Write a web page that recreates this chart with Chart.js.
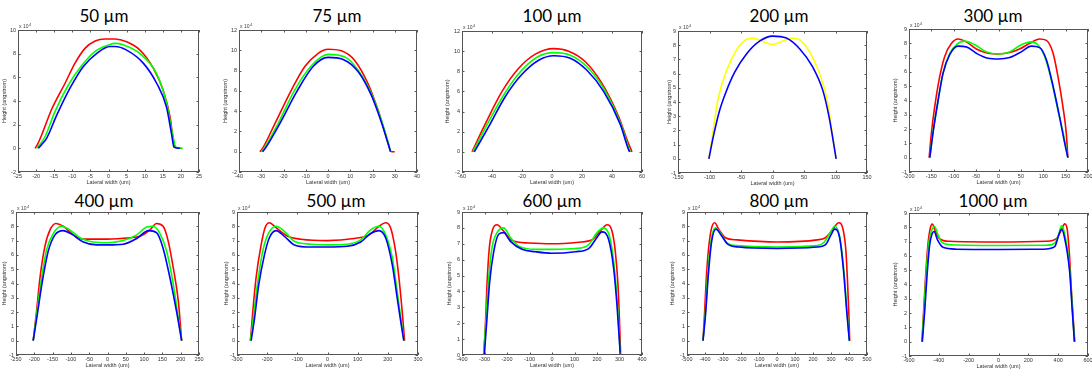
<!DOCTYPE html>
<html>
<head>
<meta charset="utf-8">
<script src="https://cdn.jsdelivr.net/npm/chart.js@4.4.1/dist/chart.umd.min.js"></script>
<style>
  body { margin: 0; background: #fff; width: 1092px; height: 371px; overflow: hidden; position: relative; }
  canvas { position: absolute; }
  .ttl { position: absolute; transform: translate(-50%, -50%); font: 17px Lato, sans-serif; color: #000; white-space: nowrap; }
</style>
</head>
<body>
<script>
// Heights in units of 10^4 angstrom, lateral width in um: [x, y]
const red50 = [[-20.3,0],[-19.5,0.4],[-18.5,1.1],[-15.7,3.3],[-12,5.5],[-9.25,7.2],[-6.5,8.45],[-3.7,9.07],[-1,9.24],[1.8,9.24],[5,9.0],[8.7,8.3],[12.4,6.75],[15.1,4.9],[17,2.65],[17.9,0.7],[18.4,0.1],[20.2,0]];
const green50 = [[-19.9,0],[-19,0.3],[-17.5,1.0],[-14.8,3.1],[-11.1,5.35],[-7.4,7.0],[-3.7,8.2],[0,8.73],[1.8,8.87],[4,8.75],[8.7,8.0],[13.3,6.3],[16,3.9],[17.7,1.2],[18.6,0.1],[20.5,0]];
const blue50 = [[-19.4,0],[-18.5,0.3],[-17.1,0.85],[-14.3,2.8],[-10.6,5.1],[-7,6.9],[-3.3,8.0],[0.4,8.6],[1.8,8.6],[5,8.3],[9.6,7.2],[13.3,5.5],[16,3.5],[17.4,1.25],[18.1,0.1],[19.7,0]];

const red75 = [[-30.6,0],[-29.5,0.3],[-23.8,2.8],[-16.4,6.1],[-10.4,8.4],[-4.4,9.7],[0,10.1],[6,9.95],[12,9.0],[18,6.7],[22.5,4.1],[26.2,1.45],[28.5,0],[30,0]];
const green75 = [[-29.9,0],[-28.8,0.3],[-22.4,2.8],[-14.9,6.1],[-7.4,8.5],[0,9.6],[7.5,9.35],[13.5,8.05],[19.5,5.7],[24,3.1],[27,0.95],[28.2,0]];
const blue75 = [[-29.4,0],[-28.3,0.3],[-21.6,2.8],[-14.1,5.9],[-6.7,8.4],[0,9.3],[6.8,9.1],[13.5,7.9],[19.5,5.55],[24,2.9],[27,0.8],[28.1,0]];

const red100 = [[-53.3,0],[-44.4,2.8],[-33.3,6.0],[-22.2,8.3],[-11.1,9.7],[1.1,10.25],[11.1,10.0],[22.2,8.95],[33.3,6.8],[44.4,3.5],[50,1.2],[53.3,0]];
const green100 = [[-52.7,0],[-43.3,2.7],[-32.2,5.65],[-21.1,7.95],[-10,9.4],[1.1,9.85],[12.2,9.6],[23.3,8.45],[34.4,6.3],[45.6,2.85],[51.6,0.2],[52.2,0]];
const blue100 = [[-51.8,0],[-42.2,2.5],[-31.1,5.5],[-20,7.7],[-8.9,9.1],[1.1,9.55],[12.2,9.3],[23.3,8.1],[34.4,6.0],[45.6,2.7],[51.1,0.2],[51.8,0]];

const yellow200 = [[-101,0],[-95,1.75],[-87,4.1],[-73,6.2],[-58,7.6],[-42,8.4],[-31,8.5],[-17,8.3],[0,8.05],[17,8.3],[31,8.5],[42,8.4],[58,7.6],[73,6.2],[87,4.1],[95,1.75],[101,0]];
const blue200 = [[-101,0],[-93,1.75],[-84,3.4],[-73,4.8],[-60,6.1],[-41,7.4],[-20,8.3],[0,8.64],[22,8.5],[43,7.75],[64,6.45],[80,4.8],[90,2.9],[101,0]];

const red300 = [[-155,0],[-150,1.7],[-142.6,3.55],[-131.5,5.65],[-120,7.1],[-105,8.0],[-90.5,8.3],[-72,8.1],[-49.5,7.6],[-23.5,7.3],[0,7.25],[25,7.35],[47,7.6],[70,8.0],[92,8.3],[107,8.2],[122,7.3],[133,5.65],[144,3.55],[151.5,1.7],[155,0]];
const green300 = [[-153.5,0],[-146,1.9],[-135,4.0],[-124,5.9],[-109,7.3],[-94,7.9],[-76,8.15],[-53,7.9],[-27,7.4],[0,7.25],[25,7.4],[51,7.9],[73,8.1],[88,7.9],[103,7.1],[118,5.45],[133,3.3],[148,1.2],[155,0]];
const blue300 = [[-153.5,0],[-146,1.8],[-135,4.0],[-124,5.9],[-109,7.2],[-90.5,7.8],[-72,7.75],[-49.5,7.3],[-23.5,6.95],[0,6.9],[25,7.0],[51,7.4],[73,7.8],[92,7.7],[107,6.85],[122,5.0],[136.5,2.85],[148,1.0],[155,0]];

const red400 = [[-203,0],[-194,2.0],[-184.5,4.4],[-171,6.6],[-157,7.75],[-141,8.2],[-121,8.0],[-93,7.4],[-66,7.1],[0,7.1],[61,7.2],[89,7.3],[116,7.75],[134,8.2],[152,8.0],[166,6.95],[180,5.05],[193.6,2.75],[202.6,0]];
const green400 = [[-203,0],[-194,1.8],[-180,4.4],[-166.5,6.35],[-148,7.5],[-126,8.0],[-103,7.75],[-75.5,7.2],[-39,6.9],[0,6.85],[43,7.0],[80,7.4],[107,7.95],[125,8.0],[143,7.5],[161.6,6.25],[180,3.9],[193.6,1.55],[202.6,0]];
const blue400 = [[-203,0],[-192,1.8],[-178,4.15],[-162,6.25],[-143.5,7.4],[-121,7.7],[-98,7.45],[-66,6.9],[-30,6.7],[0,6.7],[43,6.75],[80,7.15],[112,7.7],[134,7.55],[152,6.45],[171,4.35],[189,2.0],[202.6,0]];

const red500 = [[-255.5,0],[-247.8,2.0],[-236.8,4.4],[-220,6.7],[-207,7.9],[-192.7,8.25],[-170.7,7.9],[-132,7.3],[-88,7.1],[0,7.0],[88,7.15],[137.7,7.4],[170.7,8.0],[192.7,8.25],[209,7.9],[225.8,6.25],[236.8,4.4],[247.8,2.0],[255.5,0]];
const green500 = [[-255.5,0],[-244.5,1.8],[-231,4.15],[-214.8,6.25],[-198,7.4],[-170.7,8.0],[-143,7.65],[-110,6.95],[-55,6.75],[0,6.7],[66,6.75],[110,7.05],[143,7.75],[170.7,8.0],[192.7,7.4],[214.8,5.8],[231,3.45],[244.5,1.35],[253,0]];
const blue500 = [[-253,0],[-242,1.55],[-228,3.9],[-209,6.0],[-192.7,7.2],[-170.7,7.7],[-143,7.3],[-110,6.7],[-55,6.55],[0,6.55],[66,6.6],[110,6.9],[143,7.5],[170.7,7.7],[192.7,7.2],[214.8,5.3],[231,3.0],[244.5,1.1],[253,0]];

const red600 = [[-303.7,0],[-296,1.85],[-289,4.4],[-278.5,6.75],[-263.7,7.9],[-244.4,8.2],[-215,7.8],[-178,7.2],[-104,7.05],[0,7.0],[118.5,7.1],[178,7.25],[215,7.8],[244.4,8.2],[266.7,7.8],[281.5,6.5],[293.3,4.4],[300.7,1.85],[305,0]];
const green600 = [[-303.7,0],[-293,2.3],[-281.5,4.8],[-266.7,6.75],[-244.4,7.7],[-215,8.0],[-185,7.4],[-148,6.85],[-74,6.65],[0,6.65],[103.7,6.7],[163,6.95],[200,7.7],[229.6,8.0],[254.8,7.5],[274,5.9],[289,3.55],[299,1.2],[303.7,0]];
const blue600 = [[-300.7,0],[-289,2.3],[-277,4.6],[-259,6.5],[-237,7.6],[-215,7.7],[-185,7.15],[-133,6.65],[-74,6.5],[0,6.4],[103.7,6.5],[163,6.7],[200,7.4],[222,7.75],[252,7.25],[274,5.45],[289,3.1],[299,1.0],[303.7,0]];

const red800 = [[-411,0],[-402,2.0],[-392.6,4.4],[-379.6,6.5],[-365,7.8],[-346,8.25],[-324,7.8],[-287,7.2],[-222,7.05],[0,6.9],[222,7.05],[268.5,7.2],[311,7.8],[342.6,8.25],[366.7,7.8],[383,6.25],[392.6,3.9],[400,1.55],[403.7,0]];
const green800 = [[-411,0],[-398,2.0],[-385,4.6],[-366.7,6.95],[-342.6,7.9],[-315,7.55],[-278,6.85],[-222,6.65],[0,6.55],[222,6.65],[259,6.85],[296,7.55],[320,8.0],[348,7.3],[370,5.1],[389,2.05],[402,0]];
const blue800 = [[-411,0],[-396,2.0],[-381.5,4.6],[-363,6.95],[-339,7.8],[-311,7.4],[-274,6.75],[-213,6.55],[0,6.45],[222,6.55],[268.5,6.7],[300,7.4],[320,7.8],[348,7.2],[370,4.85],[389,1.8],[402,0]];

const red1000 = [[-513,0],[-502,2.1],[-488,4.7],[-473,6.8],[-457,7.95],[-443.6,8.23],[-425.7,7.8],[-394.4,7.2],[-327,7.02],[0,6.97],[321,7.02],[388,7.2],[421,7.8],[444,8.24],[461.5,7.8],[477,5.85],[490.5,3.25],[504,1.15],[511,0]];
const green1000 = [[-513,0],[-500,2.1],[-484,4.9],[-466,7.0],[-446,7.85],[-428,8.06],[-408,7.55],[-380,6.95],[-316.6,6.78],[0,6.73],[321,6.75],[377,6.9],[405,7.55],[422,8.1],[440,7.7],[477,5.15],[495,2.35],[509,0]];
const blue1000 = [[-511,0],[-495,2.1],[-479,4.65],[-461,6.8],[-445,7.55],[-432,7.71],[-408,7.1],[-372,6.6],[-283,6.47],[0,6.45],[298,6.47],[377,6.65],[405,7.5],[422,7.86],[440,7.4],[477,4.9],[495,2.1],[509,0]];

const panelTitles = ["50 µm", "75 µm", "100 µm", "200 µm", "300 µm", "400 µm", "500 µm", "600 µm", "800 µm", "1000 µm"];
// [min, max, step]
const xLimits = [[-25,25,5],[-40,40,10],[-60,60,20],[-150,150,50],[-200,200,50],[-250,250,50],[-300,300,100],[-400,400,100],[-500,500,100],[-600,600,200]];
const yLimits = [[-2,10,2],[-2,12,2],[-2,12,2],[-1,9,1],[-1,9,1],[-1,9,1],[-1,9,1],[0,9,1],[-1,9,1],[-1,9,1]];
const panelSeries = [
  [red50, green50, blue50], [red75, green75, blue75], [red100, green100, blue100],
  [yellow200, blue200], [red300, green300, blue300], [red400, green400, blue400],
  [red500, green500, blue500], [red600, green600, blue600], [red800, green800, blue800],
  [red1000, green1000, blue1000]
];

const rgb = ["#ff0000", "#00ff00", "#0000ff"];
const panelColors = [rgb, rgb, rgb, ["#ffff00", "#0000ff"], rgb, rgb, rgb, rgb, rgb, rgb];

// plot frame in page pixels, title centre, y axis band width
const layout = [
  {x0: 18, x1: 199, y0: 30, y1: 172, tx: 104, ty: 15, wy: 17},
  {x0: 239, x1: 417, y0: 30, y1: 172, tx: 337, ty: 15, wy: 17},
  {x0: 462, x1: 642, y0: 31, y1: 172, tx: 552, ty: 15, wy: 18},
  {x0: 678, x1: 867, y0: 31, y1: 173, tx: 779, ty: 15, wy: 12},
  {x0: 909, x1: 1088, y0: 29, y1: 172, tx: 993, ty: 15, wy: 17},
  {x0: 16, x1: 199, y0: 212, y1: 355, tx: 104, ty: 200, wy: 15},
  {x0: 237, x1: 418, y0: 212, y1: 355, tx: 336, ty: 200, wy: 14},
  {x0: 462, x1: 642, y0: 212, y1: 355, tx: 552, ty: 200, wy: 16},
  {x0: 687, x1: 867, y0: 212, y1: 355, tx: 779, ty: 200, wy: 18},
  {x0: 909, x1: 1088, y0: 213, y1: 356, tx: 993, ty: 200, wy: 17}
];
const padTop = 7, padRight = 7, axisH = 14;
const tickFont = {family: "'Liberation Sans', Arial, sans-serif", size: 5.5};

// MATLAB-style box with inward ticks and the "x 10^4" multiplier
const boxPlugin = {
  id: "box",
  afterDraw(chart) {
    const {ctx, chartArea: a, scales: {x, y}} = chart;
    ctx.save();
    ctx.strokeStyle = "#555";
    ctx.lineWidth = 1;
    ctx.strokeRect(a.left + 0.5, a.top + 0.5, a.right - a.left - 1, a.bottom - a.top - 1);
    ctx.beginPath();
    x.ticks.forEach(t => {
      const px = Math.round(x.getPixelForValue(t.value)) + 0.5;
      ctx.moveTo(px, a.bottom); ctx.lineTo(px, a.bottom - 2.5);
      ctx.moveTo(px, a.top); ctx.lineTo(px, a.top + 2.5);
    });
    y.ticks.forEach(t => {
      const py = Math.round(y.getPixelForValue(t.value)) + 0.5;
      ctx.moveTo(a.left, py); ctx.lineTo(a.left + 2.5, py);
      ctx.moveTo(a.right, py); ctx.lineTo(a.right - 2.5, py);
    });
    ctx.stroke();
    ctx.fillStyle = "#444";
    ctx.font = "5px 'Liberation Sans', Arial, sans-serif";
    ctx.textBaseline = "alphabetic";
    ctx.fillText("x 10", a.left + 1, a.top - 2);
    const w = ctx.measureText("x 10").width;
    ctx.font = "4px 'Liberation Sans', Arial, sans-serif";
    ctx.fillText("4", a.left + 1.5 + w, a.top - 4.5);
    ctx.restore();
  }
};

panelTitles.forEach((title, i) => {
  const L = layout[i];
  const div = document.createElement("div");
  div.className = "ttl";
  div.style.left = L.tx + "px";
  div.style.top = L.ty + "px";
  div.textContent = title;
  document.body.appendChild(div);

  const canvas = document.createElement("canvas");
  const w = L.wy + (L.x1 - L.x0) + padRight;
  const h = padTop + (L.y1 - L.y0) + axisH;
  canvas.width = w; canvas.height = h;
  canvas.style.left = (L.x0 - L.wy) + "px";
  canvas.style.top = (L.y0 - padTop) + "px";
  canvas.style.width = w + "px"; canvas.style.height = h + "px";
  document.body.appendChild(canvas);

  const [xmin, xmax, xstep] = xLimits[i];
  const [ymin, ymax, ystep] = yLimits[i];
  const sets = panelSeries[i];

  new Chart(canvas, {
    type: "scatter",
    data: {
      datasets: sets.map((pts, k) => ({
        data: pts.map(p => ({x: p[0], y: p[1]})),
        showLine: true,
        borderColor: panelColors[i][k],
        borderWidth: 1.6,
        pointRadius: 0,
        cubicInterpolationMode: "monotone",
        order: sets.length - k
      }))
    },
    options: {
      responsive: false,
      animation: false,
      devicePixelRatio: 1,
      layout: {padding: {top: padTop, right: padRight, left: 0, bottom: 0}},
      plugins: {legend: {display: false}, tooltip: {enabled: false}},
      scales: {
        x: {
          type: "linear", min: xmin, max: xmax,
          ticks: {stepSize: xstep, font: tickFont, color: "#333", padding: 1, maxRotation: 0, autoSkip: false},
          grid: {display: false, drawTicks: false},
          border: {display: false},
          title: {display: true, text: "Lateral width (um)", font: tickFont, color: "#333", padding: 0},
          afterFit: s => { s.height = axisH; }
        },
        y: {
          type: "linear", min: ymin, max: ymax,
          ticks: {stepSize: ystep, font: tickFont, color: "#333", padding: 2, autoSkip: false},
          grid: {display: false, drawTicks: false},
          border: {display: false},
          title: {display: true, text: "Height (angstrom)", font: tickFont, color: "#333", padding: 0},
          afterFit: s => { s.width = L.wy; }
        }
      }
    },
    plugins: [boxPlugin]
  });
});
</script>
</body>
</html>
